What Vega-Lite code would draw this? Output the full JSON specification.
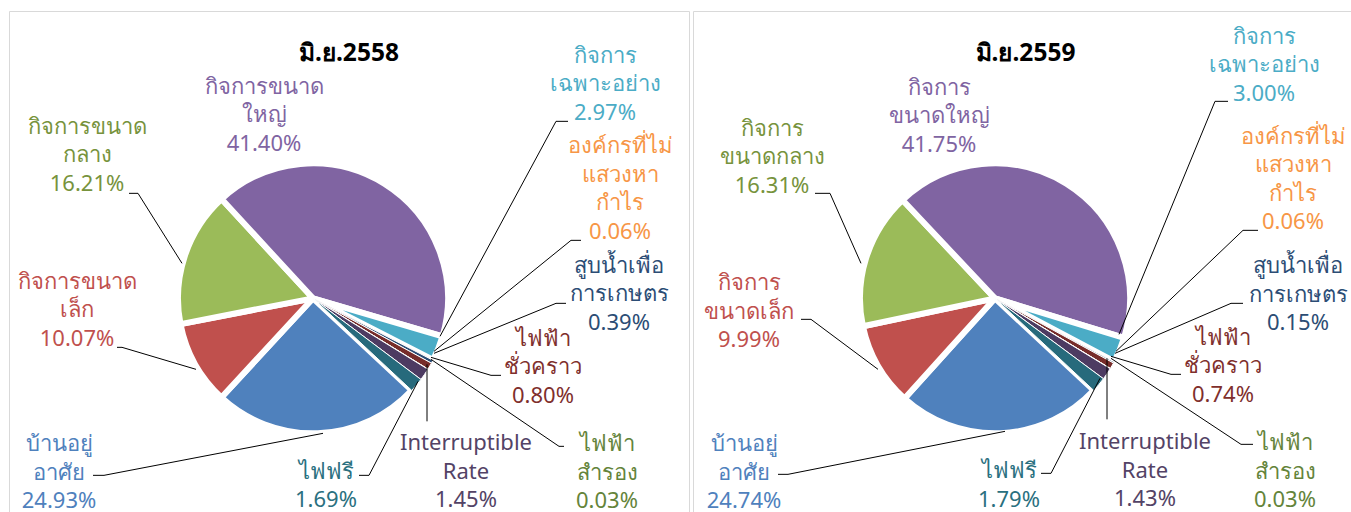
{
  "$schema": "https://vega.github.io/schema/vega-lite/v6.json",
  "padding": {"left": 8, "top": 10, "right": 0, "bottom": 0},
  "background": "white",
  "spacing": 2,
  "config": {"view": {"stroke": "#D9D9D9", "strokeWidth": 1}, "font": "Noto Sans"},
  "datasets": {
    "y58": [
      {"category": "บ้านอยู่อาศัย", "share": 0.2493, "idx": 1, "label": ["บ้านอยู่", "อาศัย", "24.93%"], "lx": -190.5, "ly": -109.4, "ax": -165, "ay": -132.75, "bx": -156.75, "cx": 7.5, "cy": -101.25},
      {"category": "กิจการขนาดเล็ก", "share": 0.1007, "idx": 2, "label": ["กิจการขนาด", "เล็ก", "10.07%"], "lx": -177, "ly": 12.4, "ax": -147, "ay": -36.75, "bx": -143.25, "cx": -87.75, "cy": -53.25},
      {"category": "กิจการขนาดกลาง", "share": 0.1621, "idx": 3, "label": ["กิจการขนาด", "กลาง", "16.21%"], "lx": -169.5, "ly": 128.6, "ax": -138, "ay": 78.75, "bx": -131.25, "cx": -98.25, "cy": 26.25},
      {"category": "กิจการขนาดใหญ่", "share": 0.4140, "idx": 4, "label": ["กิจการขนาด", "ใหญ่", "41.40%"], "lx": -36.75, "ly": 158.6, "ax": null, "ay": null, "bx": null, "cx": null, "cy": null},
      {"category": "กิจการเฉพาะอย่าง", "share": 0.0297, "idx": 5, "label": ["กิจการ", "เฉพาะอย่าง", "2.97%"], "lx": 219, "ly": 181.9, "ax": 191.25, "ay": 132.75, "bx": 182.25, "cx": 95.25, "cy": -28.5},
      {"category": "องค์กรที่ไม่แสวงหากำไร", "share": 0.0006, "idx": 6, "label": ["องค์กรที่ไม่", "แสวงหา", "กำไร", "0.06%"], "lx": 230.25, "ly": 114, "ax": 201, "ay": 43.5, "bx": 193.5, "cx": 90.75, "cy": -39.75},
      {"category": "สูบน้ำเพื่อการเกษตร", "share": 0.0039, "idx": 7, "label": ["สูบน้ำเพื่อ", "การเกษตร", "0.39%"], "lx": 229.5, "ly": 24.4, "ax": 189.75, "ay": -3.75, "bx": 182.25, "cx": 90.75, "cy": -41.25},
      {"category": "ไฟฟ้าชั่วคราว", "share": 0.0080, "idx": 8, "label": ["ไฟฟ้า", "ชั่วคราว", "0.80%"], "lx": 172.5, "ly": -30.4, "ax": 141, "ay": -57.75, "bx": 133.5, "cx": 88.5, "cy": -44.25},
      {"category": "ไฟฟ้าสำรอง", "share": 0.0003, "idx": 9, "label": ["ไฟฟ้า", "สำรอง", "0.03%"], "lx": 220.5, "ly": -109.4, "ax": 188.25, "ay": -111, "bx": 184.5, "cx": 88.5, "cy": -45.75},
      {"category": "Interruptible Rate", "share": 0.0145, "idx": 10, "label": ["Interruptible", "Rate", "1.45%"], "lx": 114.75, "ly": -108.75, "ax": 85.5, "ay": -92.25, "bx": 85.5, "cx": 85.5, "cy": -49.5},
      {"category": "ไฟฟรี", "share": 0.0169, "idx": 11, "label": ["ไฟฟรี", "1.69%"], "lx": 9.75, "ly": -130, "ax": 34.5, "ay": -132.75, "bx": 42, "cx": 78.75, "cy": -62.25}
    ],
    "y59": [
      {"category": "บ้านอยู่อาศัย", "share": 0.2474, "idx": 1, "label": ["บ้านอยู่", "อาศัย", "24.74%"], "lx": -188.25, "ly": -109.4, "ax": -162.75, "ay": -132, "bx": -155.25, "cx": 7.5, "cy": -99.75},
      {"category": "กิจการขนาดเล็ก", "share": 0.0999, "idx": 2, "label": ["กิจการ", "ขนาดเล็ก", "9.99%"], "lx": -184.5, "ly": 11.25, "ax": -145.5, "ay": -15.75, "bx": -138, "cx": -87.75, "cy": -53.25},
      {"category": "กิจการขนาดกลาง", "share": 0.1631, "idx": 3, "label": ["กิจการ", "ขนาดกลาง", "16.31%"], "lx": -167.25, "ly": 127.1, "ax": -135, "ay": 78.75, "bx": -123.75, "cx": -100.5, "cy": 26.25},
      {"category": "กิจการขนาดใหญ่", "share": 0.4175, "idx": 4, "label": ["กิจการ", "ขนาดใหญ่", "41.75%"], "lx": -42, "ly": 157.9, "ax": null, "ay": null, "bx": null, "cx": null, "cy": null},
      {"category": "กิจการเฉพาะอย่าง", "share": 0.0300, "idx": 5, "label": ["กิจการ", "เฉพาะอย่าง", "3.00%"], "lx": 201.75, "ly": 196.1, "ax": 174.75, "ay": 147.75, "bx": 165, "cx": 93, "cy": -27},
      {"category": "องค์กรที่ไม่แสวงหากำไร", "share": 0.0006, "idx": 6, "label": ["องค์กรที่ไม่", "แสวงหา", "กำไร", "0.06%"], "lx": 223.5, "ly": 121.1, "ax": 197.25, "ay": 51, "bx": 186, "cx": 90.75, "cy": -39.75},
      {"category": "สูบน้ำเพื่อการเกษตร", "share": 0.0015, "idx": 7, "label": ["สูบน้ำเพื่อ", "การเกษตร", "0.15%"], "lx": 227.25, "ly": 24, "ax": 186, "ay": -3.75, "bx": 177, "cx": 90, "cy": -41.25},
      {"category": "ไฟฟ้าชั่วคราว", "share": 0.0074, "idx": 8, "label": ["ไฟฟ้า", "ชั่วคราว", "0.74%"], "lx": 171, "ly": -29.6, "ax": 139.5, "ay": -57, "bx": 132, "cx": 87, "cy": -43.5},
      {"category": "ไฟฟ้าสำรอง", "share": 0.0003, "idx": 9, "label": ["ไฟฟ้า", "สำรอง", "0.03%"], "lx": 217.5, "ly": -108.75, "ax": 193.5, "ay": -109.5, "bx": 184.5, "cx": 87, "cy": -45},
      {"category": "Interruptible Rate", "share": 0.0143, "idx": 10, "label": ["Interruptible", "Rate", "1.43%"], "lx": 112.5, "ly": -108, "ax": 84, "ay": -90.75, "bx": 84, "cx": 84, "cy": -45},
      {"category": "ไฟฟรี", "share": 0.0179, "idx": 11, "label": ["ไฟฟรี", "1.79%"], "lx": 10.5, "ly": -129.75, "ax": 34.5, "ay": -131.25, "bx": 42, "cx": 78.75, "cy": -60}
    ]
  },
  "hconcat": [
    {
      "width": 680,
      "height": 502,
      "data": {"name": "y58"},
      "title": {"text": "มิ.ย.2558", "offset": -55, "frame": "group", "anchor": "middle", "fontSize": 24.5, "fontWeight": "bold", "color": "#000000", "font": "Noto Sans"},
      "layer": [
        {
          "mark": {"type": "arc", "outerRadius": 135, "stroke": "white", "strokeJoin": "round"},
          "encoding": {
            "x": {"datum": 0, "type": "quantitative", "scale": {"domain": [-228, 282], "nice": false, "zero": false}, "axis": null},
            "y": {"datum": 0, "type": "quantitative", "scale": {"domain": [-161, 215.5], "nice": false, "zero": false}, "axis": null},
            "theta": {"field": "share", "type": "quantitative", "stack": true, "scale": {"range": [2.3213, 8.6045]}},
            "order": {"field": "idx", "type": "quantitative"},
            "color": {"field": "category", "type": "nominal", "legend": null, "scale": {"domain": ["บ้านอยู่อาศัย", "กิจการขนาดเล็ก", "กิจการขนาดกลาง", "กิจการขนาดใหญ่", "กิจการเฉพาะอย่าง", "องค์กรที่ไม่แสวงหากำไร", "สูบน้ำเพื่อการเกษตร", "ไฟฟ้าชั่วคราว", "ไฟฟ้าสำรอง", "Interruptible Rate", "ไฟฟรี"], "range": ["#4F81BD", "#C0504D", "#9BBB59", "#8064A2", "#4BACC6", "#F79646", "#2C4D75", "#772C2A", "#5F7530", "#4D3B62", "#276A7C"]}},
            "strokeWidth": {"condition": {"test": "datum.share < 0.02", "value": 1}, "value": 6}
          }
        },
        {
          "mark": {"type": "rule", "color": "black", "strokeWidth": 1, "clip": true},
          "encoding": {
            "x": {"field": "ax", "type": "quantitative", "scale": {"domain": [-228, 282], "nice": false, "zero": false}, "axis": null},
            "x2": {"field": "bx"},
            "y": {"field": "ay", "type": "quantitative", "scale": {"domain": [-161, 215.5], "nice": false, "zero": false}, "axis": null}
          }
        },
        {
          "mark": {"type": "rule", "color": "black", "strokeWidth": 1, "clip": true},
          "encoding": {
            "x": {"field": "bx", "type": "quantitative", "scale": {"domain": [-228, 282], "nice": false, "zero": false}, "axis": null},
            "x2": {"field": "cx"},
            "y": {"field": "ay", "type": "quantitative", "scale": {"domain": [-161, 215.5], "nice": false, "zero": false}, "axis": null},
            "y2": {"field": "cy"}
          }
        },
        {
          "mark": {"type": "text", "align": "center", "baseline": "middle", "fontSize": 22, "lineHeight": 28.5, "clip": true, "font": "Noto Sans"},
          "encoding": {
            "x": {"field": "lx", "type": "quantitative", "scale": {"domain": [-228, 282], "nice": false, "zero": false}, "axis": null},
            "y": {"field": "ly", "type": "quantitative", "scale": {"domain": [-161, 215.5], "nice": false, "zero": false}, "axis": null},
            "text": {"field": "label", "type": "nominal"},
            "fill": {"field": "category", "type": "nominal", "legend": null, "scale": {"domain": ["บ้านอยู่อาศัย", "กิจการขนาดเล็ก", "กิจการขนาดกลาง", "กิจการขนาดใหญ่", "กิจการเฉพาะอย่าง", "องค์กรที่ไม่แสวงหากำไร", "สูบน้ำเพื่อการเกษตร", "ไฟฟ้าชั่วคราว", "ไฟฟ้าสำรอง", "Interruptible Rate", "ไฟฟรี"], "range": ["#4F81BD", "#C0504D", "#77933C", "#8064A2", "#4BACC6", "#F79646", "#2C4D75", "#7F2F2C", "#64843A", "#534366", "#2A7080"]}}
          }
        }
      ]
    },
    {
      "width": 661,
      "height": 502,
      "data": {"name": "y59"},
      "title": {"text": "มิ.ย.2559", "offset": -55, "frame": "group", "anchor": "middle", "dx": 2, "fontSize": 24.5, "fontWeight": "bold", "color": "#000000", "font": "Noto Sans"},
      "layer": [
        {
          "mark": {"type": "arc", "outerRadius": 135, "stroke": "white", "strokeJoin": "round"},
          "encoding": {
            "x": {"datum": 0, "type": "quantitative", "scale": {"domain": [-226.5, 269.25], "nice": false, "zero": false}, "axis": null},
            "y": {"datum": 0, "type": "quantitative", "scale": {"domain": [-161, 215.5], "nice": false, "zero": false}, "axis": null},
            "theta": {"field": "share", "type": "quantitative", "stack": true, "scale": {"range": [2.3213, 8.6045]}},
            "order": {"field": "idx", "type": "quantitative"},
            "color": {"field": "category", "type": "nominal", "legend": null},
            "strokeWidth": {"condition": {"test": "datum.share < 0.02", "value": 1}, "value": 6}
          }
        },
        {
          "mark": {"type": "rule", "color": "black", "strokeWidth": 1, "clip": true},
          "encoding": {
            "x": {"field": "ax", "type": "quantitative", "scale": {"domain": [-226.5, 269.25], "nice": false, "zero": false}, "axis": null},
            "x2": {"field": "bx"},
            "y": {"field": "ay", "type": "quantitative", "scale": {"domain": [-161, 215.5], "nice": false, "zero": false}, "axis": null}
          }
        },
        {
          "mark": {"type": "rule", "color": "black", "strokeWidth": 1, "clip": true},
          "encoding": {
            "x": {"field": "bx", "type": "quantitative", "scale": {"domain": [-226.5, 269.25], "nice": false, "zero": false}, "axis": null},
            "x2": {"field": "cx"},
            "y": {"field": "ay", "type": "quantitative", "scale": {"domain": [-161, 215.5], "nice": false, "zero": false}, "axis": null},
            "y2": {"field": "cy"}
          }
        },
        {
          "mark": {"type": "text", "align": "center", "baseline": "middle", "fontSize": 22, "lineHeight": 28.5, "clip": true, "font": "Noto Sans"},
          "encoding": {
            "x": {"field": "lx", "type": "quantitative", "scale": {"domain": [-226.5, 269.25], "nice": false, "zero": false}, "axis": null},
            "y": {"field": "ly", "type": "quantitative", "scale": {"domain": [-161, 215.5], "nice": false, "zero": false}, "axis": null},
            "text": {"field": "label", "type": "nominal"},
            "fill": {"field": "category", "type": "nominal", "legend": null}
          }
        }
      ]
    }
  ]
}
